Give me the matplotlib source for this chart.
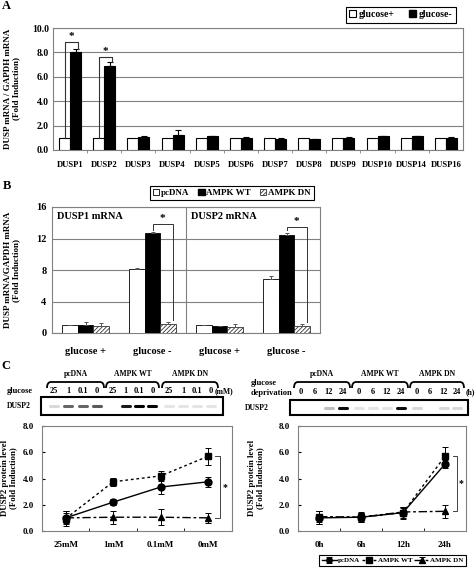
import matplotlib
matplotlib.use("Agg")
import matplotlib.pyplot as plt
import numpy as np
from matplotlib.patches import Patch
from matplotlib.path import Path
from matplotlib.patches import PathPatch

plt.rcParams['font.family'] = ['Liberation Serif', 'DejaVu Serif']
plt.rcParams['font.weight'] = 'bold'
plt.rcParams['hatch.linewidth'] = 0.6

# ---------------- data ----------------
# panel A
dusp_names = ['DUSP1', 'DUSP2', 'DUSP3', 'DUSP4', 'DUSP5', 'DUSP6',
              'DUSP7', 'DUSP8', 'DUSP9', 'DUSP10', 'DUSP14', 'DUSP16']
glc_plus = [1.0] * 12
glc_minus = [8.05, 6.9, 1.05, 1.25, 1.12, 1.0, 0.93, 0.9, 1.02, 1.12, 1.12, 1.0]
glc_minus_err = [0.2, 0.3, 0.08, 0.35, 0.05, 0.05, 0.05, 0.03, 0.03, 0.05, 0.05, 0.03]

# panel B
groups_b = ['glucose +', 'glucose -', 'glucose +', 'glucose -']
b_pcdna = [1.0, 8.1, 1.0, 6.9]
b_pcdna_err = [0.0, 0.1, 0.0, 0.3]
b_wt = [1.0, 12.7, 0.85, 12.5]
b_wt_err = [0.45, 0.1, 0.05, 0.25]
b_dn = [0.9, 1.2, 0.8, 0.95]
b_dn_err = [0.4, 0.25, 0.3, 0.25]

# panel C left (glucose concentration)
conc = ['25mM', '1mM', '0.1mM', '0mM']
cl_pcdna = [1.0, 2.2, 3.35, 3.75]
cl_pcdna_err = [0.5, 0.25, 0.55, 0.4]
cl_wt = [0.95, 3.75, 4.2, 5.7]
cl_wt_err = [0.6, 0.3, 0.4, 0.65]
cl_dn = [1.0, 1.05, 1.05, 1.0]
cl_dn_err = [0.4, 0.5, 0.6, 0.4]

# panel C right (time of deprivation)
hours = ['0h', '6h', '12h', '24h']
cr_pcdna = [1.0, 1.05, 1.4, 5.1]
cr_pcdna_err = [0.5, 0.35, 0.4, 0.3]
cr_wt = [1.05, 1.05, 1.4, 5.7]
cr_wt_err = [0.5, 0.4, 0.45, 0.7]
cr_dn = [1.1, 1.05, 1.45, 1.5]
cr_dn_err = [0.4, 0.3, 0.3, 0.5]

# western blot lanes
blot_groups = ['pcDNA', 'AMPK WT', 'AMPK DN']
lanes_left = ['25', '1', '0.1', '0']
lanes_right = ['0', '6', '12', '24']
band_left = [0.15, 0.6, 0.6, 0.65, 0.0, 0.9, 1.0, 1.0, 0.1, 0.1, 0.1, 0.1]
band_right = [0.0, 0.0, 0.25, 0.95, 0.1, 0.1, 0.1, 0.95, 0.15, 0.0, 0.15, 0.15]

# ---------------- figure ----------------
W, H = 477, 573
fig = plt.figure(figsize=(W / 100, H / 100), dpi=100)


def px_axes(l, t, r, b):
    return fig.add_axes([l / W, 1 - b / H, (r - l) / W, (b - t) / H])


GRAY = '#808080'
HATCH = '////////'

# ----- panel A -----
axA = px_axes(53, 28, 463, 150)
xa = np.arange(12) + 0.5
bw = 0.32
axA.bar(xa - bw / 2, glc_plus, bw, color='white', edgecolor='black', lw=0.8, zorder=3)
axA.bar(xa + bw / 2, glc_minus, bw, color='black', edgecolor='black', lw=0.8,
        yerr=[np.zeros(12), glc_minus_err],
        error_kw=dict(ecolor='black', capsize=2, elinewidth=0.8, capthick=0.8), zorder=3)
axA.set_xlim(0, 12)
axA.set_ylim(0, 10)
axA.set_yticks(np.arange(0, 11, 2))
axA.set_yticklabels(['%.1f' % v for v in np.arange(0, 11, 2)], fontsize=7)
axA.set_xticks(xa)
axA.set_xticklabels(dusp_names, fontsize=6.2)
axA.set_xticks(np.arange(1, 12), minor=True)
axA.tick_params(axis='x', which='major', length=0, pad=8)
axA.tick_params(axis='x', which='minor', length=2, color=GRAY)
axA.tick_params(axis='y', length=0, pad=3)
axA.yaxis.grid(True, color=GRAY, lw=0.8)
axA.set_axisbelow(True)
for s in axA.spines.values():
    s.set_color(GRAY)
    s.set_linewidth(0.8)
for i, top in [(0, 8.85), (1, 7.65)]:
    xl = xa[i] - bw / 2
    xr = xa[i] + bw / 2 + 0.06
    axA.plot([xl, xl, xr, xr], [glc_plus[i], top, top, glc_minus[i] + glc_minus_err[i] + 0.05],
             color='#333333', lw=0.8, zorder=4)
    axA.text((xl + xr) / 2, top + 0.05, '*', ha='center', va='bottom', fontsize=8)

# ----- panel B -----
axB = px_axes(52, 207, 320, 333)
xb = np.arange(4) + 0.5
bw = 0.23
ekw = dict(ecolor='#555555', capsize=1.5, elinewidth=0.7, capthick=0.7)
axB.bar(xb - bw, b_pcdna, bw, color='white', edgecolor='black', lw=0.6,
        yerr=[np.zeros(4), b_pcdna_err], error_kw=ekw, zorder=3)
axB.bar(xb, b_wt, bw, color='black', edgecolor='black', lw=0.6,
        yerr=[np.zeros(4), b_wt_err], error_kw=ekw, zorder=3)
axB.bar(xb + bw, b_dn, bw, color='white', edgecolor='#333333', lw=0.6, hatch=HATCH,
        yerr=[np.zeros(4), b_dn_err], error_kw=ekw, zorder=3)
axB.set_xlim(0, 4)
axB.set_ylim(0, 16)
axB.set_yticks([0, 4, 8, 12, 16])
axB.set_yticklabels(['0', '4', '8', '12', '16'], fontsize=7.5)
axB.set_xticks(xb)
axB.set_xticklabels(groups_b, fontsize=7.5)
axB.tick_params(axis='x', length=0, pad=10)
axB.tick_params(axis='y', length=0, pad=4)
axB.yaxis.grid(True, color=GRAY, lw=0.8)
axB.set_axisbelow(True)
axB.axvline(2, color=GRAY, lw=0.8)
for s in axB.spines.values():
    s.set_color(GRAY)
    s.set_linewidth(0.8)
axB.text(0.07, 14.8, 'DUSP1 mRNA', fontsize=7.5, va='center')
axB.text(2.07, 14.8, 'DUSP2 mRNA', fontsize=7.5, va='center')
for i, top in [(1, 13.85), (3, 13.5)]:
    xl = xb[i]
    xr = xb[i] + bw * 1.3
    axB.plot([xl, xl, xr, xr], [b_wt[i] + b_wt_err[i] + 0.3, top, top, b_dn[i] + b_dn_err[i] + 0.2],
             color='#333333', lw=0.7, zorder=4)
    axB.text((xl + xr) / 2, top + 0.1, '*', ha='center', va='bottom', fontsize=8)


# ----- panel C line charts -----
def line_panel(ax, labels, s1, e1, s2, e2, s3, e3, brk):
    xc = np.arange(4) + 0.5
    kw = dict(color='black', lw=1.0, ms=5, capsize=2, elinewidth=0.7, capthick=0.7)
    l1 = ax.errorbar(xc, s1, yerr=e1, marker='o', ls='-', **kw)
    l2 = ax.errorbar(xc, s2, yerr=e2, marker='s', ls=(0, (2, 2)), **kw)
    l3 = ax.errorbar(xc, s3, yerr=e3, marker='^', ls=(0, (6, 2, 2, 2)), **kw)
    ax.set_xlim(0, 4)
    ax.set_ylim(0, 8)
    ax.set_yticks(np.arange(0, 9, 2))
    ax.set_yticklabels(['%.1f' % v for v in np.arange(0, 9, 2)], fontsize=6.5)
    ax.set_xticks(xc)
    ax.set_xticklabels(labels, fontsize=6.5)
    ax.set_xticks([1, 2, 3], minor=True)
    ax.tick_params(axis='x', which='major', length=0, pad=7)
    ax.tick_params(axis='x', which='minor', length=2.5, direction='in')
    ax.tick_params(axis='y', length=2, direction='in', pad=6)
    for s in ax.spines.values():
        s.set_color(GRAY)
        s.set_linewidth(0.8)
    xv, ytop, ybot = brk
    ax.plot([xv - 0.1, xv, xv, xv - 0.1], [ytop, ytop, ybot, ybot], color='#444444', lw=0.7)
    ax.text(xv + 0.1, (ytop + ybot) / 2, '*', ha='center', va='center', fontsize=7)
    return l1, l2, l3


axCL = px_axes(42, 426, 232, 531)
line_panel(axCL, conc, cl_pcdna, cl_pcdna_err, cl_wt, cl_wt_err, cl_dn, cl_dn_err,
           (3.75, cl_wt[3], cl_dn[3]))
axCR = px_axes(298, 426, 466, 531)
hC = line_panel(axCR, hours, cr_pcdna, cr_pcdna_err, cr_wt, cr_wt_err, cr_dn, cr_dn_err,
                (3.78, cr_wt[3], cr_dn[3]))

# ----- legends -----
legA = fig.legend([Patch(fc='white', ec='black', lw=0.8), Patch(fc='black', ec='black')],
                  ['glucose+', 'glucose-'], ncol=2, loc='upper right',
                  bbox_to_anchor=(461 / W, 1 - 2 / H), fontsize=7, frameon=True, fancybox=False,
                  edgecolor='black', framealpha=1, handlelength=0.7, handleheight=0.7,
                  handletextpad=0.3, columnspacing=1.5, borderpad=0.35)
legB = fig.legend([Patch(fc='white', ec='black', lw=0.6), Patch(fc='black', ec='black'),
                   Patch(fc='white', ec='#333333', hatch=HATCH, lw=0.6)],
                  ['pcDNA', 'AMPK WT', 'AMPK DN'], ncol=3, loc='upper left',
                  bbox_to_anchor=(145 / W, 1 - 181 / H), fontsize=6.5, frameon=True, fancybox=False,
                  edgecolor='black', framealpha=1, handlelength=0.7, handleheight=0.7,
                  handletextpad=0.2, columnspacing=1.0, borderpad=0.35)
legC = fig.legend(hC, ['pcDNA', 'AMPK WT', 'AMPK DN'], ncol=3, loc='upper left',
                  bbox_to_anchor=(316 / W, 1 - 552 / H), fontsize=5, frameon=True, fancybox=False,
                  edgecolor='black', framealpha=1, handlelength=2.2, handletextpad=0.1,
                  columnspacing=0.3, borderpad=0.3, markerscale=0.8)
for lg in (legA, legB, legC):
    lg.get_frame().set_linewidth(0.8)

# ----- overlay: letters, y labels, blots -----
ov = fig.add_axes([0, 0, 1, 1])
ov.set_xlim(0, W)
ov.set_ylim(H, 0)
ov.set_axis_off()

ov.text(6, 6, 'A', fontsize=9, ha='center', va='center')
ov.text(7, 186, 'B', fontsize=9, ha='center', va='center')
ov.text(6, 366, 'C', fontsize=9, ha='center', va='center')

ov.text(12, 89, 'DUSP mRNA / GAPDH mRNA\n(Fold Induction)', rotation=90, fontsize=6.5,
        ha='center', va='center', multialignment='center', linespacing=1.1)
ov.text(12, 270, 'DUSP mRNA/GAPDH mRNA\n(Fold Induction)', rotation=90, fontsize=6.5,
        ha='center', va='center', multialignment='center', linespacing=1.1)
ov.text(9, 478, 'DUSP2 protein level\n(Fold Induction)', rotation=90, fontsize=6.3,
        ha='center', va='center', multialignment='center', linespacing=1.1)
ov.text(256, 478, 'DUSP2 protein level\n(Fold Induction)', rotation=90, fontsize=6.3,
        ha='center', va='center', multialignment='center', linespacing=1.1)


def brace(x0, x1, yb, yt):
    r = min(4, (x1 - x0) / 4)
    verts = [(x0, yb), (x0, yt), (x0 + r, yt), (x1 - r, yt), (x1, yt), (x1, yb)]
    codes = [Path.MOVETO, Path.CURVE3, Path.CURVE3, Path.LINETO, Path.CURVE3, Path.CURVE3]
    ov.add_patch(PathPatch(Path(verts, codes), fill=False, lw=1.3, color='black'))


def blot(spans, lanes, bands, unit, label_y, box, name_x):
    bx0, by0, bx1, by1 = box
    xs = []
    for g, (x0, x1) in enumerate(spans):
        brace(x0, x1, 388, 382)
        ov.text((x0 + x1) / 2, 374, blot_groups[g], fontsize=5.5, ha='center', va='center')
        step = (x1 - x0) / 4
        for k, lab in enumerate(lanes):
            xx = x0 + step * (k + 0.5)
            xs.append(xx)
            ov.text(xx, label_y, lab, fontsize=6, ha='center', va='center')
    ov.text(spans[-1][1] + 6, label_y, unit, fontsize=5.5, ha='center', va='center')
    ov.add_patch(plt.Rectangle((bx0, by0), bx1 - bx0, by1 - by0, fill=False, lw=1.5, ec='black'))
    ov.text(name_x, (by0 + by1) / 2, 'DUSP2', fontsize=5.5, ha='left', va='center')
    yb = (by0 + by1) / 2
    for xx, a in zip(xs, bands):
        if a > 0:
            ov.plot([xx - 4, xx + 4], [yb, yb], color='black', alpha=a, lw=2.2,
                    solid_capstyle='round')


blot([(47, 104), (106, 159), (162, 218)], lanes_left, band_left, '(mM)', 391,
     (41, 397, 223, 415), 7)
ov.text(7, 391, 'glucose', fontsize=6, ha='left', va='center')
blot([(294, 350), (352, 408), (410, 464)], lanes_right, band_right, '(h)', 392,
     (290, 400, 468, 415), 245)
ov.text(251, 388, 'glucose\ndeprivation', fontsize=6, ha='left', va='center', linespacing=1.2)

fig.savefig('out.png', dpi=100)
